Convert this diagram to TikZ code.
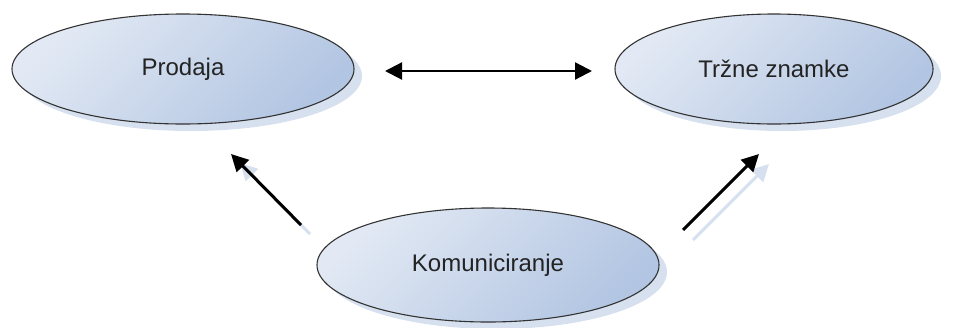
\documentclass[tikz,border=0pt]{standalone}
\usepackage{fontspec}
\setmainfont{Liberation Sans}
\usetikzlibrary{shapes.geometric,shadows,arrows.meta}

\definecolor{fillleft}{RGB}{226,233,244}
\definecolor{fillright}{RGB}{178,197,226}
\definecolor{shadowblue}{RGB}{214,224,238}
\definecolor{labeltext}{RGB}{35,35,35}

\tikzset{
  topic/.style={ellipse, draw=black!80, line width=1.1pt, inner sep=0pt,
    top color=fillleft, bottom color=fillright, shading angle=45,
    drop shadow={shadow xshift=8pt, shadow yshift=-7pt, fill=shadowblue, opacity=1},
    font=\fontsize{24}{28}\selectfont, text=labeltext},
  link/.style={-{Triangle[length=17pt,width=17pt]}, line width=3pt},
  linkshadow/.style={-{Triangle[length=17pt,width=17pt]}, line width=3pt, draw=shadowblue, color=shadowblue}
}

\begin{document}
\begin{tikzpicture}[x=1pt,y=-1pt]
\useasboundingbox (0,0) rectangle (957,327);

% ellipses
\node[topic, minimum width=342pt, minimum height=110pt] (prodaja) at (183,69) {Prodaja};
\node[topic, minimum width=318pt, minimum height=110pt] (znamke) at (774,69) {Tržne znamke};
\node[topic, minimum width=342pt, minimum height=114pt] (komun) at (488,265) {Komuniciranje};

% arrow ends
\coordinate (h1) at (385,71);
\coordinate (h2) at (592,71);
\coordinate (l1) at (301,225);
\coordinate (l2) at (231,154);
\coordinate (r1) at (683,230);
\coordinate (r2) at (759,154);
\coordinate (l1s) at (310,234);
\coordinate (l2s) at (240,163);
\coordinate (r1s) at (693,240);
\coordinate (r2s) at (769,164);

% arrows
\draw[linkshadow] (l1s) -- (l2s);
\draw[linkshadow] (r1s) -- (r2s);
\draw[{Triangle[length=17pt,width=17pt]}-{Triangle[length=17pt,width=17pt]}, line width=2.2pt] (h1) -- (h2);
\draw[link] (l1) -- (l2);
\draw[link] (r1) -- (r2);
\end{tikzpicture}
\end{document}
